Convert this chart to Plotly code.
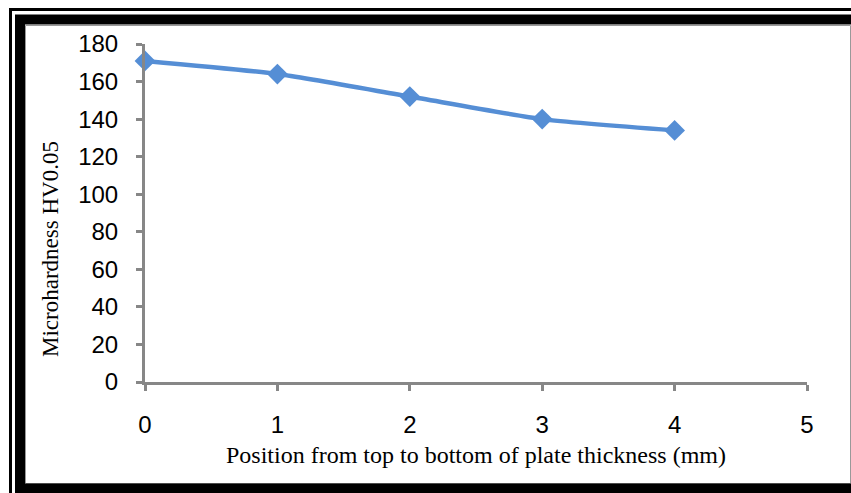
import plotly.graph_objects as go

positions = [0, 1, 2, 3, 4]
hardness = [171, 164, 152, 140, 134]
y_ticks = [0, 20, 40, 60, 80, 100, 120, 140, 160, 180]
x_ticks = [0, 1, 2, 3, 4, 5]

W, H = 851, 493
L, R, T, B = 145, 807, 44, 382

def fx(p):
    return (p - L) / (R - L)

def fy(p):
    return (B - p) / (B - T)

fig = go.Figure()
fig.add_trace(go.Scatter(
    x=positions, y=hardness, mode="lines+markers",
    line=dict(color="#558ED5", width=4.5, shape="spline", smoothing=0.6),
    marker=dict(symbol="diamond", size=16, color="#558ED5"),
    cliponaxis=False, showlegend=False,
))

axis_common = dict(
    showline=True, linecolor="#878787", linewidth=3,
    ticks="outside", ticklen=6, tickwidth=3, tickcolor="#878787",
    showgrid=False, zeroline=False,
    tickfont=dict(family="Liberation Sans, Arial", size=24, color="black"),
)

fig.update_layout(
    width=W, height=H,
    margin=dict(l=L, r=W - R, t=T, b=H - B),
    paper_bgcolor="white", plot_bgcolor="white",
    xaxis=dict(range=[0, 5], tickvals=x_ticks, ticklabelstandoff=13,
               title=dict(text="Position from top to bottom of plate thickness (mm)",
                          font=dict(family="Liberation Serif, Times New Roman", size=24, color="black"),
                          standoff=10),
               **axis_common),
    yaxis=dict(range=[0, 180], tickvals=y_ticks, ticklabelstandoff=13,
               **axis_common),
    annotations=[
        dict(text="Microhardness HV0.05", textangle=-90, showarrow=False,
             xref="paper", yref="paper", x=fx(50), y=fy(249),
             xanchor="center", yanchor="middle",
             font=dict(family="Liberation Serif, Times New Roman", size=23, color="black")),
    ],
    shapes=[
        dict(type="rect", xref="paper", yref="paper",
             x0=fx(10.5), x1=fx(870), y0=fy(9.5), y1=fy(520),
             line=dict(color="black", width=3), layer="above"),
        dict(type="rect", xref="paper", yref="paper",
             x0=fx(25.5), x1=fx(850.5), y0=fy(25.5), y1=fy(483.5),
             line=dict(color="#999999", width=1), layer="above"),
        dict(type="rect", xref="paper", yref="paper",
             x0=fx(20), x1=fx(880), y0=fy(19.5), y1=fy(488.5),
             line=dict(color="black", width=10), layer="above"),
    ],
)

fig.write_html("out.html", config={"displayModeBar": False},
               post_script="document.body.style.margin='0';document.body.style.overflow='hidden';")
